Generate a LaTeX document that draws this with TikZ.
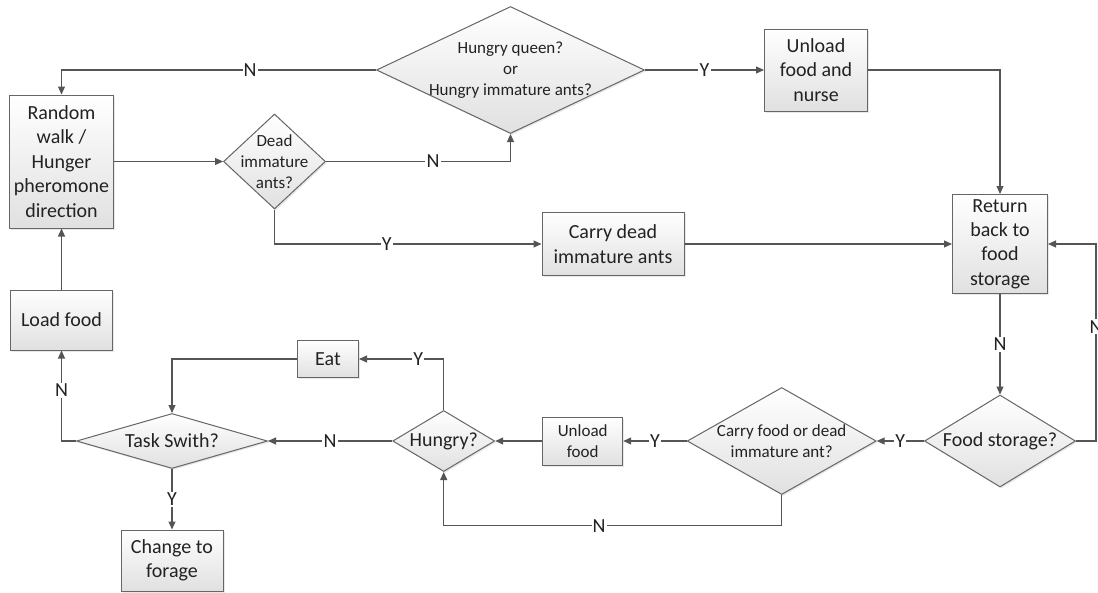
\documentclass[tikz,border=0pt]{standalone}
\usepackage{fontspec}
\setmainfont{Carlito}
\usetikzlibrary{arrows.meta,shapes.geometric,shadows}
\definecolor{ln}{HTML}{555555}
\definecolor{bd}{HTML}{666666}
\definecolor{tx}{HTML}{222222}
\tikzset{
  shade fill/.style={top color=white, bottom color=black!12},
  shad/.style={drop shadow={opacity=0.18, shadow xshift=1.5pt, shadow yshift=-1.5pt}},
  box/.style={draw=bd, line width=1pt, shade fill, shad, align=center, text=tx,
    font=\fontsize{20}{24.4}\selectfont, inner sep=0pt},
  smallbox/.style={box, font=\fontsize{17}{21}\selectfont},
  dia/.style={diamond, draw=bd, line width=1pt, shade fill, shad, inner sep=0pt},
  dtxt/.style={align=center, text=tx, font=\fontsize{17}{20.8}\selectfont, inner sep=0pt},
  dtxtL/.style={align=center, text=tx, font=\fontsize{20}{24.4}\selectfont, inner sep=0pt},
  arr/.style={draw=ln, line width=1.1pt, -{Triangle[length=8pt,width=7pt]}},
  lab/.style={fill=white, inner sep=1.2pt, text=tx, font=\fontsize{20}{24}\selectfont},
}
\begin{document}
\begin{tikzpicture}[x=1pt,y=-1pt]
\fill[white] (0,0) rectangle (1098,592);
\useasboundingbox (0,0) rectangle (1098,592);

% nodes
\node[box, minimum width=104pt, minimum height=133pt] (rw) at (61.5,161.5) {Random\\walk /\\Hunger\\pheromone\\direction};
\node[dia, minimum width=268pt, minimum height=127pt,
  label={[dtxt]center:{Hungry queen?\\or\\Hungry immature ants?}}] (hq) at (510.5,70) {};
\node[box, minimum width=103pt, minimum height=82pt] (nurse) at (816,70) {Unload\\food and\\nurse};
\node[dia, minimum width=102pt, minimum height=95pt,
  label={[dtxt]center:{Dead\\immature\\ants?}}] (dead) at (274.5,161.5) {};
\node[box, minimum width=142pt, minimum height=63pt] (carry) at (613,244) {Carry dead\\immature ants};
\node[box, minimum width=95pt, minimum height=99pt] (ret) at (1000,244) {Return\\back to\\food\\storage};
\node[box, minimum width=102pt, minimum height=60pt] (load) at (61.5,320) {Load food};
\node[box, minimum width=61pt, minimum height=37pt] (eat) at (328,359) {Eat};
\node[dia, minimum width=191pt, minimum height=55pt,
  label={[dtxtL]center:Task Swith?}] (task) at (172,441) {};
\node[dia, minimum width=102pt, minimum height=61pt,
  label={[dtxtL]center:Hungry?}] (hun) at (443.7,441) {};
\node[smallbox, minimum width=80pt, minimum height=48pt] (uf) at (582.7,441) {Unload\\food};
\node[dia, minimum width=189pt, minimum height=107pt,
  label={[dtxt]center:{Carry food or dead\\immature ant?}}] (cf) at (781.7,441) {};
\node[dia, minimum width=151pt, minimum height=92pt,
  label={[dtxtL]center:Food storage?}] (fs) at (1000,441) {};
\node[box, minimum width=102pt, minimum height=61pt] (chg) at (172,560.5) {Change to\\forage};

\coordinate (rc) at (1096,441);
\coordinate (bc) at (781.7,525.7);

% connectors
\draw[arr] (hq.west) -| node[lab, pos=0.2] {N} (rw.north);
\draw[arr] (rw.east) -- (dead.west);
\draw[arr] (dead.east) -| node[lab, pos=0.29] {N} (hq.south);
\draw[arr] (dead.south) |- node[lab, pos=0.71] {Y} (carry.west);
\draw[arr] (hq.east) -- node[lab] {Y} (nurse.west);
\draw[arr] (nurse.east) -| (ret.north);
\draw[arr] (carry.east) -- (ret.west);
\draw[arr] (ret.south) -- node[lab] {N} (fs.north);
\draw[arr] (fs.east) -- (rc) |- node[lab, pos=0.29] {N} (ret.east);
\draw[arr] (fs.west) -- node[lab] {Y} (cf.east);
\draw[arr] (cf.west) -- node[lab] {Y} (uf.east);
\draw[arr] (uf.west) -- (hun.east);
\draw[arr] (cf.south) -- (bc) -| node[lab, pos=0.27] {N} (hun.south);
\draw[arr] (hun.west) -- node[lab] {N} (task.east);
\draw[arr] (hun.north) |- node[lab, pos=0.65] {Y} (eat.east);
\draw[arr] (eat.west) -| (task.north);
\draw[arr] (task.west) -| node[lab, pos=0.78] {N} (load.south);
\draw[arr] (task.south) -- node[lab] {Y} (chg.north);
\draw[arr] (load.north) -- (rw.south);
\end{tikzpicture}
\end{document}
